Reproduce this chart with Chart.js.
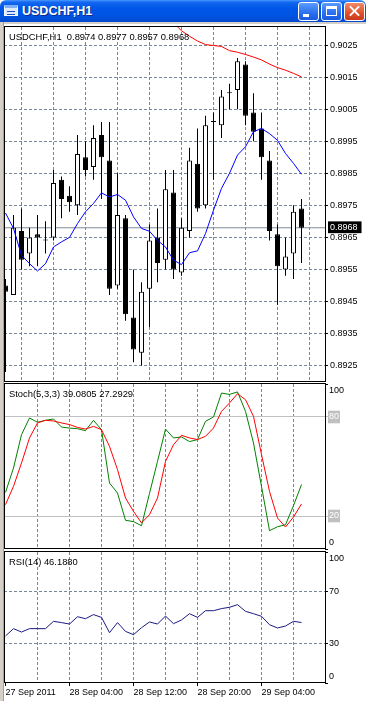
<!DOCTYPE html>
<html>
<head>
<meta charset="utf-8">
<title>USDCHF,H1</title>
<script src="https://cdn.jsdelivr.net/npm/chart.js@4.4.1/dist/chart.umd.min.js"></script>
<style>
  html, body { margin: 0; padding: 0; background: #fff; }
  body { position: relative; width: 366px; height: 701px; overflow: hidden; font-family: "Liberation Sans", Arial, sans-serif; }
  .caption { position: absolute; left: 0; top: 0; width: 366px; height: 22px; border-radius: 6px 6px 0 0;
    background: linear-gradient(#4a97ff 0%, #1468f0 10%, #0058e8 35%, #0054e2 75%, #0048cc 100%); }
  .caption .icon { position: absolute; left: 4px; top: 5px; width: 14px; height: 11px; background: #dce8fb; border: 1px solid #f4f8ff; border-top: 3px solid #7fb0f5; box-sizing: border-box; }
  .caption .icon i { position: absolute; left: 2px; top: 3px; width: 8px; height: 2px; border-top: 1px solid #2050c0; border-bottom: 1px solid #2050c0; }
  .caption .text { position: absolute; left: 22px; top: 4px; font: bold 12.5px "Liberation Sans", Arial, sans-serif; color: #fff; text-shadow: 1px 1px 0 #0a2a8c; }
  .btn { position: absolute; top: 2px; width: 21px; height: 19px; box-sizing: border-box; border: 1px solid #fff; border-radius: 3px;
    background: linear-gradient(#5a9cff, #2a6ff0 60%, #1a5ae0); }
  .btn.min { left: 298px; } .btn.max { left: 321px; }
  .btn.close { left: 344px; background: linear-gradient(#f08a6a, #e0502c 60%, #c83a1a); }
  .btn.min b { position: absolute; left: 4px; top: 11px; width: 6px; height: 3px; background: #fff; }
  .btn.max b { position: absolute; left: 4px; top: 3px; width: 11px; height: 10px; box-sizing: border-box; border: 1px solid #fff; border-top-width: 3px; }
  .btn.close b, .btn.close s { position: absolute; left: 3px; top: 7px; width: 13px; height: 2px; background: #fff; transform: rotate(45deg); }
  .btn.close s { transform: rotate(-45deg); }
  .edge-left { position: absolute; left: 0; top: 22px; width: 4px; height: 679px; background: linear-gradient(to right, #d4d0c8 0 3px, #a0a0a0 3px 4px); }
  .edge-top { position: absolute; left: 0; top: 22px; width: 366px; height: 2px; background: #d4d0c8; }
  canvas { position: absolute; left: 0; }
  .lbl { position: absolute; left: 9px; font-size: 9.4px; line-height: 11px; color: #000; white-space: pre; z-index: 2; }
</style>
</head>
<body>
<div class="caption">
  <div class="icon"><i></i></div>
  <div class="text">USDCHF,H1</div>
  <div class="btn min"><b></b></div>
  <div class="btn max"><b></b></div>
  <div class="btn close"><b></b><s></s></div>
</div>
<div class="edge-top"></div>
<div class="edge-left"></div>

<canvas id="main" width="366" height="359" style="top:24px"></canvas>
<canvas id="stoch" width="366" height="168" style="top:383px"></canvas>
<canvas id="rsi" width="366" height="150" style="top:551px"></canvas>

<div class="lbl" style="top:31px">USDCHF,H1  0.8974 0.8977 0.8957 0.8968</div>
<div class="lbl" style="top:388px">Stoch(5,3,3) 39.0805 27.2929</div>
<div class="lbl" style="top:556px">RSI(14) 46.1880</div>

<script>
// hourly bars, 27 Sep 2011 20:00 .. 29 Sep 2011 09:00
const opens  = [0.8950, 0.8947, 0.8967, 0.8960, 0.8966, 0.8964, 0.8965, 0.8983, 0.8978, 0.8975, 0.8990, 0.8987, 0.8997, 0.8989, 0.8950, 0.8971, 0.8940, 0.8929, 0.8949,
                0.8965, 0.8958, 0.8979, 0.8954, 0.8967, 0.8988, 0.8975, 0.9001, 0.9000, 0.9010, 0.9011, 0.9019, 0.9004, 0.8999, 0.8989, 0.8966, 0.8955, 0.8960, 0.8974];
const highs  = [0.8952, 0.8972, 0.8974, 0.8968, 0.8972, 0.8970, 0.8986, 0.8984, 0.8981, 0.8997, 0.8995, 0.9000, 0.9001, 0.9001, 0.8985, 0.8972, 0.8955, 0.8951, 0.8969,
                0.8974, 0.8986, 0.8986, 0.8971, 0.8993, 0.8999, 0.9003, 0.9004, 0.9011, 0.9013, 0.9021, 0.9020, 0.9010, 0.9004, 0.8992, 0.8969, 0.8965, 0.8975, 0.8977];
const lows   = [0.8923, 0.8947, 0.8955, 0.8956, 0.8956, 0.8960, 0.8964, 0.8971, 0.8973, 0.8972, 0.8984, 0.8983, 0.8977, 0.8947, 0.8949, 0.8939, 0.8926, 0.8925, 0.8937,
                0.8951, 0.8955, 0.8952, 0.8953, 0.8965, 0.8973, 0.8974, 0.8983, 0.8996, 0.9005, 0.9005, 0.9000, 0.8995, 0.8983, 0.8964, 0.8944, 0.8953, 0.8952, 0.8957];
const closes = [0.8948, 0.8968, 0.8958, 0.8965, 0.8965, 0.8964, 0.8982, 0.8977, 0.8976, 0.8991, 0.8986, 0.8996, 0.8990, 0.8949, 0.8972, 0.8941, 0.8930, 0.8948, 0.8964,
                0.8957, 0.8980, 0.8955, 0.8968, 0.8989, 0.8974, 0.9000, 0.9001, 0.9009, 0.9010, 0.9020, 0.9003, 0.8998, 0.8990, 0.8967, 0.8956, 0.8959, 0.8973, 0.8968];

const maFast = [0.89726, 0.89678, 0.89594, 0.89568, 0.89545, 0.89568, 0.8962, 0.89636, 0.8965, 0.89693, 0.8973, 0.89756, 0.89789, 0.89776, 0.89784, 0.89766, 0.89714, 0.89678, 0.89669,
                0.89641, 0.8962, 0.89579, 0.89565, 0.89602, 0.89608, 0.89662, 0.89735, 0.89803, 0.8985, 0.89907, 0.89933, 0.8998, 0.8999, 0.89974, 0.89953, 0.89912, 0.89881, 0.89847];
const maSlow = [null, null, null, null, null, null, null, null, null, null, null, null, null, null, null, null, null, null, null, null, null,
                0.9032, 0.90295, 0.90278, 0.90263, 0.90252, 0.90249, 0.90246, 0.90233, 0.90228, 0.90221, 0.90213, 0.90204, 0.90191, 0.9018, 0.90172, 0.90162, 0.90151];

const stochMain   = [34.3, 49.1, 69.3, 79.4, 76.8, 78.0, 78.8, 73.9, 73.3, 72.9, 71.7, 78.0, 72.3, 40.0, 33.9, 17.4, 16.6, 14.1, 33.7,
                     53.1, 72.7, 67.3, 67.9, 65.1, 66.3, 77.4, 80.0, 94.5, 93.7, 95.2, 83.4, 64.2, 37.9, 11.1, 13.5, 14.7, 26.3, 39.08];
const stochSignal = [26.9, 38.0, 52.1, 67.3, 76.4, 78.0, 77.6, 76.4, 75.4, 73.7, 72.7, 74.3, 72.3, 62.2, 48.1, 30.9, 22.8, 15.8, 20.8,
                     30.9, 53.1, 63.2, 68.9, 67.3, 66.3, 68.3, 73.3, 83.4, 88.5, 94.1, 90.5, 80.4, 57.2, 34.9, 18.8, 13.3, 19.4, 27.29];
const rsi = [35.9, 41.5, 38.9, 41.5, 41.5, 41.5, 47.1, 46.1, 45.0, 50.6, 49.1, 52.2, 50.1, 38.4, 46.1, 39.4, 36.9, 42.2, 46.6,
             45.0, 51.1, 45.3, 48.1, 52.9, 50.1, 55.2, 55.2, 56.8, 57.8, 59.8, 54.7, 52.9, 50.9, 44.5, 42.0, 43.5, 47.1, 46.19];

const lastPrice = 0.8968;
const priceTicks = [0.9025, 0.9015, 0.9005, 0.8995, 0.8985, 0.8975, 0.8965, 0.8955, 0.8945, 0.8935, 0.8925];
const stochTicks = [100, 80, 20, 0];
const stochLevels = [80, 20];
const rsiTicks = [100, 70, 30, 0];
const rsiLevels = [70, 30];
const timeLabels = ['27 Sep 2011', '28 Sep 04:00', '28 Sep 12:00', '28 Sep 20:00', '29 Sep 04:00'];
const timeLabelBars = [0, 8, 16, 24, 32];
const gridBars = [4, 8, 12, 16, 20, 24, 28, 32, 36];

const xMin = -0.1875, xMax = 39.9375;
const gridColor = '#778899';
const dash = [3, 2];
const font = { family: '"Liberation Sans", Arial, sans-serif', size: 9 };

Chart.defaults.animation = false;
Chart.defaults.events = [];

const framePlugin = {
  id: 'paneFrame',
  afterDraw(chart) {
    const { ctx, chartArea: a } = chart;
    const l = Math.floor(a.left), r = Math.floor(a.right), t = Math.floor(a.top), b = Math.floor(a.bottom);
    ctx.save();
    ctx.strokeStyle = '#000';
    ctx.lineWidth = 1;
    ctx.strokeRect(l + 0.5, t - 0.5, r - l, b - t);
    ctx.restore();
  }
};

// scales must not push the chart area in for their edge labels
const noPad = s => { s.paddingTop = s.paddingBottom = s.paddingLeft = s.paddingRight = 0; };

const pts = arr => arr.map((v, i) => ({ x: i, y: v }));
const line = (data, color) => ({ type: 'line', data: pts(data), borderColor: color, borderWidth: 1, pointRadius: 0, tension: 0, order: 0 });

function xAxis(extra) {
  return Object.assign({
    type: 'linear', min: xMin, max: xMax, offset: false,
    afterBuildTicks(s) { s.ticks = gridBars.map(v => ({ value: v })); },
    afterFit(s) { s.height = 0; noPad(s); },
    ticks: { display: false, autoSkip: false },
    grid: { color: gridColor, drawTicks: false, borderDash: dash },
    border: { display: false, dash: dash }
  }, extra);
}

function levelAxis(tickVals, extra) {
  return Object.assign({
    position: 'right', min: 0, max: 100,
    afterFit(s) { s.width = 41; noPad(s); },
    afterBuildTicks(s) { s.ticks = tickVals.map(v => ({ value: v })); },
    ticks: {
      autoSkip: false, padding: 1, font: Object.assign({ lineHeight: 1.4 }, font), color: '#000',
      // top and bottom labels sit inside the pane, like the terminal does
      callback: v => v === 100 ? ['', '100'] : v === 0 ? ['0', ''] : String(v)
    }
  }, extra);
}

const plugins = { legend: { display: false }, tooltip: { enabled: false } };

new Chart(document.getElementById('main'), {
  type: 'line',
  data: {
    datasets: [
      line(maSlow, '#ff0000'),
      line(maFast, '#0000ff'),
      { type: 'line', data: [{ x: xMin, y: lastPrice }, { x: xMax, y: lastPrice }], borderColor: '#7f8a96', borderWidth: 1, pointRadius: 0, order: 3 },
      {
        type: 'bar', data: opens.map((o, i) => ({ x: i, y: [o, closes[i]] })),
        backgroundColor: opens.map((o, i) => closes[i] >= o ? '#fff' : '#000'),
        borderColor: '#000', borderWidth: 1, borderSkipped: false, inflateAmount: 0,
        barThickness: 5, minBarLength: 1, grouped: false, order: 1
      },
      {
        type: 'bar', data: lows.map((l, i) => ({ x: i, y: [l, highs[i]] })),
        backgroundColor: '#000', borderWidth: 0, inflateAmount: 0, barThickness: 1, grouped: false, order: 2
      }
    ]
  },
  options: {
    responsive: false, devicePixelRatio: 1,
    layout: { padding: { left: 4, right: 0, top: 3, bottom: 1 } },
    plugins,
    scales: {
      x: xAxis(),
      y: {
        position: 'right', min: 0.891985, max: 0.903068,
        afterFit(s) { s.width = 41; noPad(s); },
        afterBuildTicks(s) { s.ticks = [...priceTicks, lastPrice].map(v => ({ value: v })); },
        ticks: {
          autoSkip: false, padding: 2, font,
          color: c => c.tick.value === lastPrice ? '#fff' : '#000',
          showLabelBackdrop: c => c.tick.value === lastPrice,
          backdropColor: '#000',
          backdropPadding: { left: 2, right: 4, top: 1, bottom: 0 },
          callback: v => v.toFixed(4)
        },
        grid: {
          color: c => c.tick && c.tick.value === lastPrice ? 'rgba(0,0,0,0)' : gridColor,
          tickColor: c => c.tick && c.tick.value === lastPrice ? 'rgba(0,0,0,0)' : '#000',
          tickLength: 3, borderDash: dash
        },
        border: { display: false, dash: dash }
      }
    }
  },
  plugins: [framePlugin]
});

new Chart(document.getElementById('stoch'), {
  type: 'line',
  data: { datasets: [line(stochSignal, '#ff0000'), line(stochMain, '#008000')] },
  options: {
    responsive: false, devicePixelRatio: 1,
    layout: { padding: { left: 4, right: 0, top: 1, bottom: 2 } },
    plugins,
    scales: {
      x: xAxis(),
      y: levelAxis(stochTicks, {
        grid: {
          color: c => c.tick && stochLevels.includes(c.tick.value) ? '#c0c0c0' : 'rgba(0,0,0,0)',
          tickColor: c => c.tick && stochLevels.includes(c.tick.value) ? '#c0c0c0' : '#000',
          tickLength: 3
        },
        border: { display: false }
      })
    }
  },
  plugins: [framePlugin]
});
// level labels get a silver box
const stochChart = Chart.getChart('stoch');
Object.assign(stochChart.options.scales.y.ticks, {
  color: c => stochLevels.includes(c.tick.value) ? '#fff' : '#000',
  showLabelBackdrop: c => stochLevels.includes(c.tick.value),
  backdropColor: '#c0c0c0',
  backdropPadding: { left: 1, right: 1, top: 0, bottom: 0 }
});
stochChart.update();

new Chart(document.getElementById('rsi'), {
  type: 'line',
  data: { datasets: [line(rsi, '#1a1a80')] },
  options: {
    responsive: false, devicePixelRatio: 1,
    layout: { padding: { left: 4, right: 0, top: 1, bottom: 0 } },
    plugins,
    scales: {
      x: xAxis({
        afterBuildTicks(s) { s.ticks = [0, ...gridBars].map(v => ({ value: v })); },
        afterFit(s) { s.height = 18; noPad(s); },
        ticks: {
          autoSkip: false, maxRotation: 0, minRotation: 0, align: 'start', padding: 1, font, color: '#000',
          callback: v => timeLabelBars.includes(v) ? timeLabels[timeLabelBars.indexOf(v)] : ''
        },
        grid: {
          color: c => c.tick && c.tick.value === 0 ? 'rgba(0,0,0,0)' : gridColor,
          tickColor: c => c.tick && timeLabelBars.includes(c.tick.value) ? '#000' : 'rgba(0,0,0,0)',
          tickLength: 3, borderDash: dash
        }
      }),
      y: levelAxis(rsiTicks, {
        grid: {
          color: c => c.tick && rsiLevels.includes(c.tick.value) ? gridColor : 'rgba(0,0,0,0)',
          tickColor: '#000', tickLength: 3, borderDash: dash
        },
        border: { display: false, dash: dash }
      })
    }
  },
  plugins: [framePlugin]
});
</script>
</body>
</html>
